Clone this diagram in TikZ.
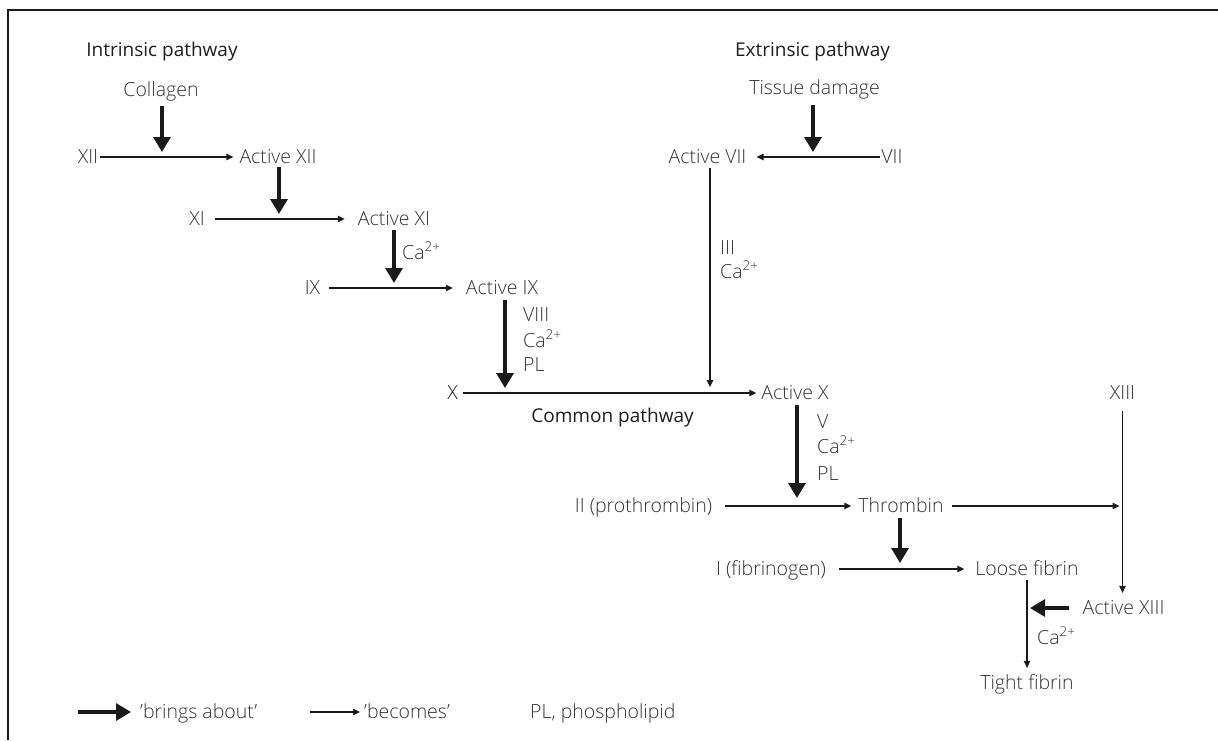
\documentclass[tikz,border=0pt]{standalone}
\usepackage{fontspec}
\setmainfont{Open Sans}[UprightFont=* Light]
\newfontfamily\hdrfont{Open Sans}
\usetikzlibrary{arrows.meta,calc}
\definecolor{txt}{HTML}{333333}
\definecolor{hdr}{HTML}{1E1E1E}
\definecolor{ln}{HTML}{1A1A1A}
\newcommand{\caion}{Ca\raisebox{0.42em}{\fontsize{13.5}{14}\selectfont 2+}}
\begin{document}
\begin{tikzpicture}[x=1pt,y=-1pt,
  lbl/.style={text=txt,font=\fontsize{19.5}{23}\selectfont,inner sep=0pt,text height=13.9pt,text depth=0pt},
  hdrlbl/.style={lbl,text=hdr,font=\hdrfont\fontsize{19}{23}\selectfont},
  side/.style={lbl,anchor=west},
  becomes/.style={draw=ln,line width=1.1pt,-{Triangle[length=7pt,width=6.5pt]}},
  bring/.style={draw=ln,line width=3.2pt,-{Triangle[length=15pt,width=17pt]}}]
\useasboundingbox (0,0) rectangle (1218,740);
\draw[line width=1.4pt,ln] (8,740) -- (8,10) -- (1218,10);

% headers
\node[hdrlbl] (intr) at (162,50) {Intrinsic pathway};
\node[hdrlbl] (extr) at (812.5,50) {Extrinsic pathway};
\node[hdrlbl] (common) at (612.5,416) {Common pathway};

% intrinsic
\node[lbl] (coll) at (161,90) {Collagen};
\node[lbl] (xii) at (88,157) {XII};
\node[lbl] (axii) at (278,157) {Active XII};
\node[lbl] (xi) at (197,219) {XI};
\node[lbl] (axi) at (394,219) {Active XI};
\node[lbl] (ix) at (312.5,288) {IX};
\node[lbl] (aix) at (502,288) {Active IX};
\node[lbl,text=hdr] (x) at (452.5,393) {X};
\node[lbl] (ax) at (795,393) {Active X};

% extrinsic
\node[lbl] (tis) at (814.5,88) {Tissue damage};
\node[lbl] (vii) at (892,157) {VII};
\node[lbl] (avii) at (707.5,157) {Active VII};

% common
\node[lbl] (ii) at (643.5,506) {II (prothrombin)};
\node[lbl] (thr) at (901,506) {Thrombin};
\node[lbl] (i) at (771,569) {I (fibrinogen)};
\node[lbl] (loose) at (1027,569) {Loose fibrin};
\node[lbl] (xiii) at (1122.5,393) {XIII};
\node[lbl] (axiii) at (1123.5,608) {Active XIII};
\node[lbl] (tight) at (1027,683) {Tight fibrin};

% cofactor labels
\node[side] (ca1) at (402,253) {\caion};
\node[side] (viii) at (523,315) {VIII};
\node[side] (ca2) at (523,341) {\caion};
\node[side] (pl1) at (523,365) {PL};
\node[side] (iii) at (720,248) {III};
\node[side] (ca3) at (720,272) {\caion};
\node[side] (v) at (817,422) {V};
\node[side] (ca4) at (817,447) {\caion};
\node[side] (pl2) at (817,474) {PL};
\node[side] (ca5) at (1037,638) {\caion};

% 'becomes' arrows
\draw[becomes,shorten <=2pt,shorten >=6pt] (xii.east) -- (axii.west);
\draw[becomes,shorten <=10pt,shorten >=13pt] (xi.east) -- (axi.west);
\draw[becomes,shorten <=9pt,shorten >=13pt] (ix.east) -- (aix.west);
\draw[becomes,shorten <=5pt,shorten >=5pt] (x.east) -- (ax.west);
\draw[becomes,shorten <=1pt,shorten >=10pt] (vii.west) -- (avii.east);
\draw[becomes,shorten <=13pt,shorten >=7pt] (ii.east) -- (thr.west);
\draw[becomes,shorten <=13pt,shorten >=11pt] (i.east) -- (loose.west);
\draw[becomes,shorten <=4pt,shorten >=6pt] (avii.south -| 710,0) -- (x.east -| 710,0);
\draw[becomes,shorten <=8pt,shorten >=3pt] (thr.east) -- (thr.east -| xiii.south);
\draw[becomes,shorten <=11pt,shorten >=8pt] (xiii.south) -- (axiii.north -| xiii.south);
\draw[becomes,shorten <=4pt,shorten >=8pt] (loose.south) -- (tight.north);

% 'brings about' arrows
\draw[bring,shorten <=9pt,shorten >=5pt] (coll.south -| 162,0) -- (xii.east -| 162,0);
\draw[bring,shorten <=3pt,shorten >=5pt] (axii.south -| 279,0) -- (xi.east -| 279,0);
\draw[bring,shorten <=4pt,shorten >=5pt] (axi.south) -- (axi.south |- ix.east);
\draw[bring,shorten <=5pt,shorten >=5pt] (aix.south -| 505,0) -- (x.east -| 505,0);
\draw[bring,shorten <=10pt,shorten >=5pt] (tis.south -| 813,0) -- (vii.west -| 813,0);
\draw[bring,shorten <=5pt,shorten >=8pt] (ax.south -| 797,0) -- (ii.east -| 797,0);
\draw[bring,shorten <=5pt,shorten >=6pt] (thr.south -| 900,0) -- (i.east -| 900,0);
\draw[bring,shorten <=13pt,shorten >=3pt] (axiii.west) -- (axiii.west -| loose.south);

% legend
\coordinate (l1a) at (78,712);
\coordinate (l1b) at (131,712);
\coordinate (l2a) at (310,712);
\coordinate (l2b) at (360,712);
\draw[bring] (l1a) -- (l1b);
\node[side] (lg1) at (140,712) {'brings about'};
\draw[becomes] (l2a) -- (l2b);
\node[side] (lg2) at (364,712) {'becomes'};
\node[side] (lg3) at (530,712) {PL, phospholipid};
\end{tikzpicture}
\end{document}
